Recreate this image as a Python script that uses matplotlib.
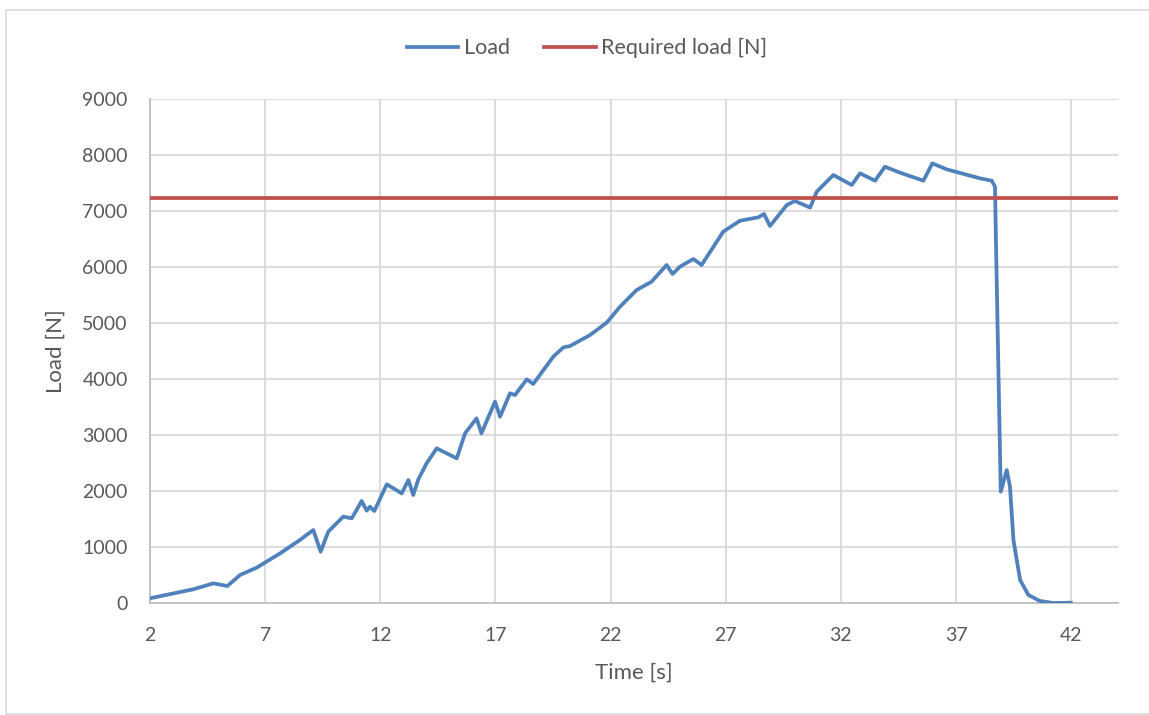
import matplotlib
matplotlib.use("Agg")
import matplotlib.pyplot as plt
from matplotlib.patches import Rectangle

plt.rcParams['font.family'] = ['Lato', 'DejaVu Sans']

# data
time_s = [2.00, 3.88, 4.75, 5.36, 5.91, 6.63, 7.65, 8.51, 9.09, 9.41, 9.74,
          10.39, 10.76, 11.19, 11.41, 11.55, 11.74, 12.28, 12.93, 13.22, 13.43,
          13.65, 14.01, 14.45, 14.88, 15.32, 15.68, 16.18, 16.39, 16.98, 17.20,
          17.63, 17.85, 18.36, 18.64, 19.51, 19.95, 20.24, 21.11, 21.83, 22.41,
          23.13, 23.78, 24.43, 24.69, 25.01, 25.59, 25.95, 26.89, 27.62, 28.41,
          28.66, 28.92, 29.65, 30.00, 30.66, 30.95, 31.67, 32.47, 32.83, 33.48,
          33.91, 34.57, 35.58, 35.97, 36.59, 38.04, 38.55, 38.69, 38.73, 38.84,
          38.94, 39.20, 39.34, 39.49, 39.78, 40.14, 40.64, 41.22, 41.98]
load_n = [84, 245, 351, 303, 500, 631, 887, 1125, 1304, 917, 1274,
          1542, 1512, 1821, 1649, 1720, 1643, 2119, 1958, 2196, 1929,
          2208, 2494, 2762, 2673, 2583, 3030, 3298, 3030, 3596, 3327,
          3744, 3714, 3994, 3911, 4399, 4565, 4589, 4786, 5006, 5292,
          5589, 5738, 6036, 5875, 6006, 6143, 6036, 6631, 6827, 6887,
          6946, 6732, 7107, 7179, 7060, 7345, 7643, 7464, 7673, 7541,
          7791, 7684, 7541, 7851, 7744, 7583, 7541, 7434, 6482, 4101,
          1988, 2375, 2077, 1125, 411, 143, 36, 0, 5]
required_load = 7230
x_ticks = [2, 7, 12, 17, 22, 27, 32, 37, 42]
y_ticks = [0, 1000, 2000, 3000, 4000, 5000, 6000, 7000, 8000, 9000]

text_color = '#595959'
blue = '#4F81BD'
red = '#C0504D'

fig = plt.figure(figsize=(11.49, 7.15), dpi=100)
ax = fig.add_axes([150/1149, 1 - 603/715, (1118 - 150)/1149, (603 - 99)/715])

ax.plot(time_s, load_n, color=blue, lw=2.7, solid_joinstyle='round',
        label='Load', zorder=3)
ax.axhline(required_load, color=red, lw=2.7, label='Required load [N]', zorder=3)

ax.set_xlim(2, 44.03)
ax.set_ylim(0, 9000)
ax.set_xticks(x_ticks)
ax.set_yticks(y_ticks)
ax.grid(True, color='#d9d9d9', lw=1.3)
ax.set_axisbelow(True)

for side in ['top', 'right']:
    ax.spines[side].set_visible(False)
for side in ['left', 'bottom']:
    ax.spines[side].set_color('#bfbfbf')
    ax.spines[side].set_linewidth(1.3)
ax.tick_params(length=0, labelsize=14, colors=text_color)
ax.tick_params(axis='x', pad=17)
ax.tick_params(axis='y', pad=16)

ax.set_xlabel('Time [s]', fontsize=16, color=text_color, labelpad=14)
ax.set_ylabel('Load [N]', fontsize=16, color=text_color, labelpad=12)

fig.legend(loc='center', bbox_to_anchor=(587/1149, 1 - 48/715), ncol=2,
           frameon=False, fontsize=15.5, labelcolor=text_color,
           handlelength=2.4, handletextpad=0.25, columnspacing=1.6)

# chart area border
fig.patches.append(Rectangle((6/1149, 1/715), 1.0, 1 - 10/715 - 1/715,
                             transform=fig.transFigure, fill=False,
                             edgecolor='#d9d9d9', lw=1.2))

fig.savefig('out.png', dpi=100, facecolor='white')
